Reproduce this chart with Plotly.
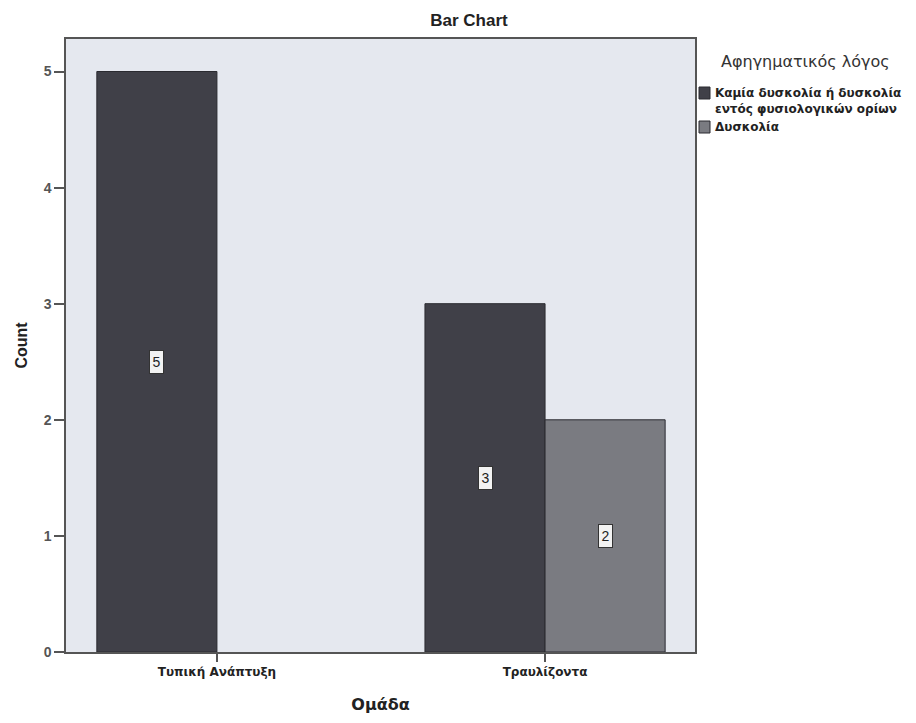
import plotly.graph_objects as go

categories = ["Τυπική Ανάπτυξη", "Τραυλίζοντα"]
series_names = ["Καμία δυσκολία ή δυσκολία<br>εντός φυσιολογικών ορίων", "Δυσκολία"]
counts_none = [5, 3]
counts_diff = [0, 2]
legend_title = "Αφηγηματικός λόγος"

colors = ["#404048", "#7a7b81"]
FONT = "Liberation Sans, Arial, sans-serif"
WIDE = "DejaVu Sans, Verdana, sans-serif"
BARGAP = 0.268
w = (1 - BARGAP) / 2

# plot area in pixels (for placing legend items in paper coordinates)
W, H = 916, 723
L, R, T, B = 66, 221, 39, 71
PW, PH = W - L - R, H - T - B


def px(x):
    return (x - L) / PW


def py(y):
    return (H - B - y) / PH


fig = go.Figure()
for name, vals, col in zip(series_names, [counts_none, counts_diff], colors):
    fig.add_trace(go.Bar(
        x=categories, y=vals, name=name,
        marker=dict(color=col,
                    line=dict(color="#2a2a30", width=[1 if v > 0 else 0 for v in vals])),
        showlegend=False, hoverinfo="x+y",
    ))

# value labels in the middle of each bar
for s, vals in enumerate([counts_none, counts_diff]):
    off = -w / 2 if s == 0 else w / 2
    for i, v in enumerate(vals):
        if v > 0:
            fig.add_annotation(
                x=i + off, y=v / 2, xref="x", yref="y", text=str(v), showarrow=False,
                font=dict(family=FONT, size=14, color="#222"),
                width=11, height=20, borderpad=1,
                bgcolor="#f2f2f2", bordercolor="#333", borderwidth=1,
            )

fig.update_layout(
    width=W, height=H,
    margin=dict(l=L, r=R, t=T, b=B),
    paper_bgcolor="white", plot_bgcolor="#e5e8ef",
    barmode="group", bargap=BARGAP, bargroupgap=0,
    font=dict(family=FONT, color="#333"),
    title=dict(text="<b>Bar Chart</b>", x=469 / W, xanchor="center", y=1 - 20 / H,
               yanchor="middle", font=dict(family=FONT, size=17, color="#222")),
)
fig.update_yaxes(
    range=[0, 5.28], dtick=1, showgrid=False, zeroline=False, automargin=False,
    ticks="outside", ticklen=10, tickcolor="#555", tickwidth=1.5,
    showline=True, linecolor="#555", linewidth=1.5, mirror=True,
    tickfont=dict(family=FONT, size=14, color="#555", weight="bold"),
    title=dict(text="<b>Count</b>", font=dict(family=FONT, size=16, color="#222"), standoff=12),
)
fig.update_xaxes(
    type="category", range=[-0.46, 1.457], showgrid=False, automargin=False,
    ticks="outside", ticklen=8, tickcolor="#555", tickwidth=1.5,
    showline=True, linecolor="#555", linewidth=1.5, mirror=True,
    tickfont=dict(family=WIDE, size=12, color="#222", weight="bold"),
    title=dict(text="<b>Ομάδα</b>", font=dict(family=WIDE, size=16, color="#222"), standoff=21),
)

# legend drawn as annotations + swatches
fig.add_annotation(xref="paper", yref="paper", x=px(719), y=py(62),
                   xanchor="left", yanchor="middle", text=legend_title, showarrow=False,
                   font=dict(family=WIDE, size=16, color="#333"))
item_y = [93, 127]
for name, col, yy in zip(series_names, colors, item_y):
    multi = "<br>" in name
    fig.add_annotation(xref="paper", yref="paper", x=px(713),
                       y=py(yy - 9) if multi else py(yy),
                       xanchor="left", yanchor="top" if multi else "middle",
                       text="<b>" + name + "</b>", showarrow=False, align="left",
                       font=dict(family=WIDE, size=12, color="#222"))
    fig.add_shape(type="rect", xref="paper", yref="paper", x0=px(699), x1=px(710),
                  y0=py(yy + 6), y1=py(yy - 6),
                  fillcolor=col, line=dict(color="#2a2a30", width=1))

fig.write_html("out.html", config={"displayModeBar": False},
               post_script="document.body.style.margin='0';")
